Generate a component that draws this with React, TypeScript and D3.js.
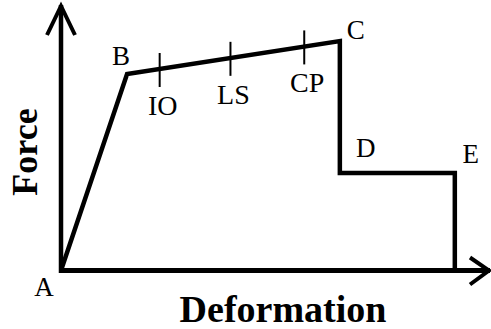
import { useRef, useEffect } from "react";
import * as d3 from "d3";

// force-deformation backbone curve (arbitrary units, 0..100 on both axes)
const pointNames = ["A", "B", "C", "D", "E", ""];
const deformation = [0, 15.4, 65.0, 65.0, 91.8, 91.8];
const force = [0, 74.0, 86.4, 36.7, 36.7, 0];

// performance levels marked on the B-C branch
const levelNames = ["IO", "LS", "CP"];
const levelDeformation = [23.0, 39.5, 56.7];
const levelForce = [75.9, 80.1, 84.4];

const xTitle = "Deformation";
const yTitle = "Force";

const W = 491;
const H = 329;

const App = () => {
  const svgRef = useRef<SVGSVGElement>(null);

  useEffect(() => {
    const svg = d3.select(svgRef.current);
    svg.selectAll("*").remove();

    /** scales */
    const x = d3.scaleLinear().domain([0, 100]).range([61, 490]);
    const y = d3.scaleLinear().domain([0, 100]).range([270.5, 5]);

    const serif = "'Liberation Serif', 'Times New Roman', Times, serif";

    /** axes with open arrow heads */
    const axes = svg.append("g").attr("stroke", "#000").attr("fill", "none");
    axes
      .append("path")
      .attr("d", `M${x(0)},${y(0) + 2.5}V${y(100)}`)
      .attr("stroke-width", 4.5);
    axes
      .append("path")
      .attr("d", `M${x(0) - 2}, ${y(0)}H${x(100)}`)
      .attr("stroke-width", 5);
    axes
      .append("path")
      .attr("d", `M${x(0) - 14},${y(100) + 30}L${x(0)},${y(100) + 1}L${x(0) + 14},${y(100) + 30}`)
      .attr("stroke-width", 4)
      .attr("stroke-linejoin", "miter");
    axes
      .append("path")
      .attr("d", `M${x(100) - 20},${y(0) - 13}L${x(100) - 1},${y(0)}L${x(100) - 20},${y(0) + 14}`)
      .attr("stroke-width", 4)
      .attr("stroke-linejoin", "miter");

    /** backbone curve */
    const pts = deformation.map((d, i) => [d, force[i]] as [number, number]);
    const line = d3
      .line<[number, number]>()
      .x((d) => x(d[0]))
      .y((d) => y(d[1]));
    svg
      .append("path")
      .attr("d", line(pts))
      .attr("fill", "none")
      .attr("stroke", "#000")
      .attr("stroke-width", 4.5)
      .attr("stroke-linejoin", "miter");

    /** performance level ticks */
    svg
      .selectAll(".lvl")
      .data(levelNames)
      .enter()
      .append("line")
      .attr("x1", (_, i) => x(levelDeformation[i]))
      .attr("x2", (_, i) => x(levelDeformation[i]))
      .attr("y1", (_, i) => y(levelForce[i]) - 16)
      .attr("y2", (_, i) => y(levelForce[i]) + 18)
      .attr("stroke", "#000")
      .attr("stroke-width", 2);

    svg
      .selectAll(".lvlText")
      .data(levelNames)
      .enter()
      .append("text")
      .attr("x", (_, i) => x(levelDeformation[i]) + 3)
      .attr("y", (_, i) => y(levelForce[i]) + 46)
      .attr("text-anchor", "middle")
      .attr("font-family", serif)
      .attr("font-size", 28)
      .text((d) => d);

    /** point letters */
    const offsets = [
      [-17, 25],
      [-6, -9],
      [16, -2],
      [26, -16],
      [16, -10],
      [0, 0],
    ];
    svg
      .selectAll(".pt")
      .data(pointNames.filter((d) => d))
      .enter()
      .append("text")
      .attr("x", (_, i) => x(deformation[i]) + offsets[i][0])
      .attr("y", (_, i) => y(force[i]) + offsets[i][1])
      .attr("text-anchor", "middle")
      .attr("font-family", serif)
      .attr("font-size", 27)
      .text((d) => d);

    /** axis titles */
    svg
      .append("text")
      .attr("x", 283)
      .attr("y", 322)
      .attr("text-anchor", "middle")
      .attr("font-family", serif)
      .attr("font-weight", "bold")
      .attr("font-size", 38)
      .text(xTitle);

    svg
      .append("text")
      .attr("transform", "translate(37,152) rotate(-90)")
      .attr("text-anchor", "middle")
      .attr("font-family", serif)
      .attr("font-weight", "bold")
      .attr("font-size", 36)
      .text(yTitle);
  }, []);

  return (
    <svg
      ref={svgRef}
      width={W}
      height={H}
      style={{ position: "absolute", left: 0, top: 0, background: "#fff" }}
    />
  );
};

export default App;
